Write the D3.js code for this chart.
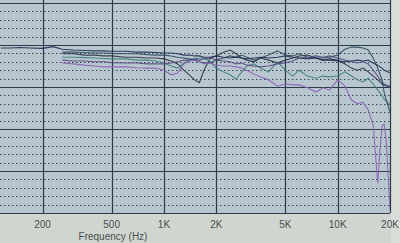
<!DOCTYPE html>
<html>
<head>
<meta charset="utf-8">
<script src="https://cdn.jsdelivr.net/npm/d3@7"></script>
<style>
  body { margin: 0; background: #d0d6cf; }
  svg { display: block; }
</style>
</head>
<body>
<script>
// frequency points (Hz) shared by all traces
var freqs = [115,130,150,170,200,230,260,300,350,400,450,500,600,700,800,900,1000,1100,1200,1300,1400,1500,1600,1700,1850,2000,2200,2400,2600,2800,3000,3300,3600,4000,4500,5000,5500,6000,6700,7500,8200,9000,10000,11000,12000,13000,14000,15000,16000,17000,17500,18000,18500,19000,19500,20000];

// level in dB, null where a trace was not measured
var navy   = [-0.7,-0.7,-0.6,-0.7,-0.8,-0.4,-1.0,-1.2,-1.3,-1.4,-1.4,-1.5,-1.5,-1.7,-1.7,-1.8,-1.9,-1.9,-2.1,-2.4,-2.4,-2.6,-2.6,-2.9,-2.9,-2.6,-2.9,-3.1,-2.9,-3.1,-3.3,-3.1,-2.9,-3.1,-2.9,-2.6,-2.9,-3.1,-3.3,-3.1,-3.6,-3.6,-3.8,-4.0,-3.8,-3.6,-3.8,-3.6,-4.3,-4.8,-5.2,-5.5,-6.0,-6.2,-6.4,-6.7];
var slate  = [null,null,null,null,null,null,-1.7,-1.7,-1.8,-1.9,-1.9,-2.0,-2.1,-2.1,-2.3,-2.4,-2.4,-2.6,-2.9,-3.1,-3.3,-3.6,-4.0,-4.3,-4.3,-3.6,-3.1,-2.6,-2.9,-2.4,-2.9,-3.6,-3.1,-2.4,-1.4,-2.4,-2.6,-2.1,-2.9,-3.1,-3.1,-2.9,-2.4,-1.0,-0.5,-0.5,-0.7,-1.2,-3.1,-5.5,-6.9,-8.3,-11.2,-13.1,-14.5,-16.0];
var teal   = [null,null,null,null,null,null,-2.9,-2.9,-3.0,-3.1,-3.2,-3.3,-3.3,-3.6,-3.6,-3.8,-4.3,-5.0,-5.5,-4.3,-3.6,-3.3,-3.1,-3.1,-4.0,-5.5,-6.4,-7.1,-8.1,-6.4,-5.0,-4.5,-5.5,-6.4,-4.0,-6.0,-7.4,-6.0,-7.4,-7.9,-7.4,-7.6,-7.4,-6.4,-7.4,-8.3,-8.8,-7.9,-9.3,-10.7,-11.4,-12.1,-12.9,-13.3,-13.8,-14.3];
var purple = [null,null,null,null,null,null,-3.6,-3.8,-3.8,-4.0,-4.0,-4.2,-4.3,-4.3,-4.5,-4.5,-4.5,-4.3,-4.0,-3.6,-3.6,-3.3,-3.6,-3.3,-3.1,-3.6,-3.8,-4.0,-4.5,-4.3,-4.8,-5.0,-5.2,-5.0,-4.5,-4.3,-3.8,-3.1,-2.9,-2.6,-2.9,-2.6,-3.1,-3.6,-4.0,-4.3,-4.0,-4.5,-6.0,-7.4,-8.3,-8.8,-9.3,-9.5,-9.8,-10.0];
var violet = [null,null,null,null,null,null,-4.3,-4.5,-4.8,-5.0,-5.2,-5.2,-5.2,-5.4,-5.5,-5.5,-6.0,-7.1,-6.7,-4.5,-3.8,-3.6,-4.0,-4.5,-4.3,-4.8,-5.0,-5.0,-5.2,-5.5,-6.0,-6.9,-7.6,-8.3,-9.8,-9.3,-9.5,-9.5,-10.2,-11.2,-10.2,-10.7,-8.3,-9.8,-13.1,-14.0,-13.6,-15.5,-19.0,-32.9,-25.0,-19.3,-18.8,-22.6,-30.9,-39.3];
var dark   = [null,null,null,null,null,null,-2.1,-2.1,-2.4,-2.4,-2.6,-2.6,-2.9,-2.9,-3.1,-3.1,-3.3,-3.8,-4.5,-6.0,-7.1,-8.3,-9.0,-6.0,-3.1,-2.6,-1.7,-1.2,-2.1,-3.1,-3.6,-4.0,-3.1,-3.6,-4.3,-3.6,-3.1,-2.6,-2.4,-3.1,-3.6,-3.3,-3.6,-4.5,-5.5,-6.0,-5.5,-6.4,-7.4,-8.3,-8.8,-9.3,-9.5,-9.8,-9.8,-9.8];

var traces = [
  {vals: dark,   color: "#2b2f45"},
  {vals: teal,   color: "#3d7f7a"},
  {vals: purple, color: "#574a82"},
  {vals: slate,  color: "#2e4a5c"},
  {vals: navy,   color: "#1f2b4f"},
  {vals: violet, color: "#8a62b4"}
];

var tickFreqs = [200, 500, 1000, 2000, 5000, 10000, 20000];
var tickLabels = ["200", "500", "1K", "2K", "5K", "10K", "20K"];

var W = 400, H = 243;
var plotL = 0, plotR = 390, plotT = 0, plotB = 213;

var x = d3.scaleLog().domain([200, 20000]).range([42.5, 390]);
var y = d3.scaleLinear().domain([-40, 10]).range([213, 3]);

var svg = d3.select("body").append("svg")
  .attr("width", W)
  .attr("height", H);

// window strip at the right
svg.append("rect").attr("x", 391).attr("y", 0).attr("width", 9).attr("height", H).attr("fill", "#d9ddd8")

// plot background
svg.append("rect")
  .attr("x", plotL).attr("y", plotT)
  .attr("width", plotR - plotL).attr("height", plotB - plotT)
  .attr("fill", "#b8c7cf");

svg.append("clipPath").attr("id", "clip")
  .append("rect").attr("x", plotL).attr("y", plotT).attr("width", plotR - plotL).attr("height", plotB - plotT);

var grid = svg.append("g");

// dotted minor lines every 2 dB
var minor = d3.range(-38, 10, 2).filter(function(d){ return d % 10 !== 0; });
grid.selectAll("line.minor")
  .data(minor)
  .enter().append("line")
  .attr("class", "minor")
  .attr("x1", plotL).attr("x2", plotR)
  .attr("y1", function(d){ return Math.round(y(d)) + 0.5; })
  .attr("y2", function(d){ return Math.round(y(d)) + 0.5; })
  .attr("stroke", "#3a4856")
  .attr("stroke-dasharray", "1.5,2.5")
  .attr("stroke-width", 1);

// solid major lines every 10 dB
grid.selectAll("line.major")
  .data(d3.range(-40, 11, 10))
  .enter().append("line")
  .attr("class", "major")
  .attr("x1", plotL).attr("x2", plotR)
  .attr("y1", function(d){ return Math.round(y(d)) + 0.5; })
  .attr("y2", function(d){ return Math.round(y(d)) + 0.5; })
  .attr("stroke", "#2c3a48")
  .attr("stroke-width", 1.2);

// vertical frequency lines
grid.selectAll("line.vert")
  .data(tickFreqs)
  .enter().append("line")
  .attr("class", "vert")
  .attr("x1", function(d){ return Math.round(x(d)) + 0.5; })
  .attr("x2", function(d){ return Math.round(x(d)) + 0.5; })
  .attr("y1", plotT).attr("y2", plotB)
  .attr("stroke", "#2c3a48")
  .attr("stroke-width", 1.2);

// traces
var line = d3.line()
  .defined(function(d){ return d[1] !== null; })
  .x(function(d){ return x(d[0]); })
  .y(function(d){ return y(d[1]); })
  .curve(d3.curveLinear);

svg.append("g").attr("clip-path", "url(#clip)")
  .selectAll("path")
  .data(traces)
  .enter().append("path")
  .attr("d", function(t){ return line(freqs.map(function(f, i){ return [f, t.vals[i]]; })); })
  .attr("fill", "none")
  .attr("stroke", function(t){ return t.color; })
  .attr("stroke-width", 1.1)
  .attr("stroke-opacity", 0.9);

// tick labels
svg.selectAll("text.tick")
  .data(tickFreqs)
  .enter().append("text")
  .attr("class", "tick")
  .attr("x", function(d){ return x(d); })
  .attr("y", 228)
  .attr("text-anchor", "middle")
  .attr("font-family", "Liberation Sans, Arial, sans-serif")
  .attr("font-size", 10)
  .attr("fill", "#4a4f50")
  .text(function(d, i){ return tickLabels[i]; });

svg.append("text")
  .attr("x", 113).attr("y", 240)
  .attr("text-anchor", "middle")
  .attr("font-family", "Liberation Sans, Arial, sans-serif")
  .attr("font-size", 10)
  .attr("fill", "#4a4f50")
  .text("Frequency (Hz)");
</script>
</body>
</html>
